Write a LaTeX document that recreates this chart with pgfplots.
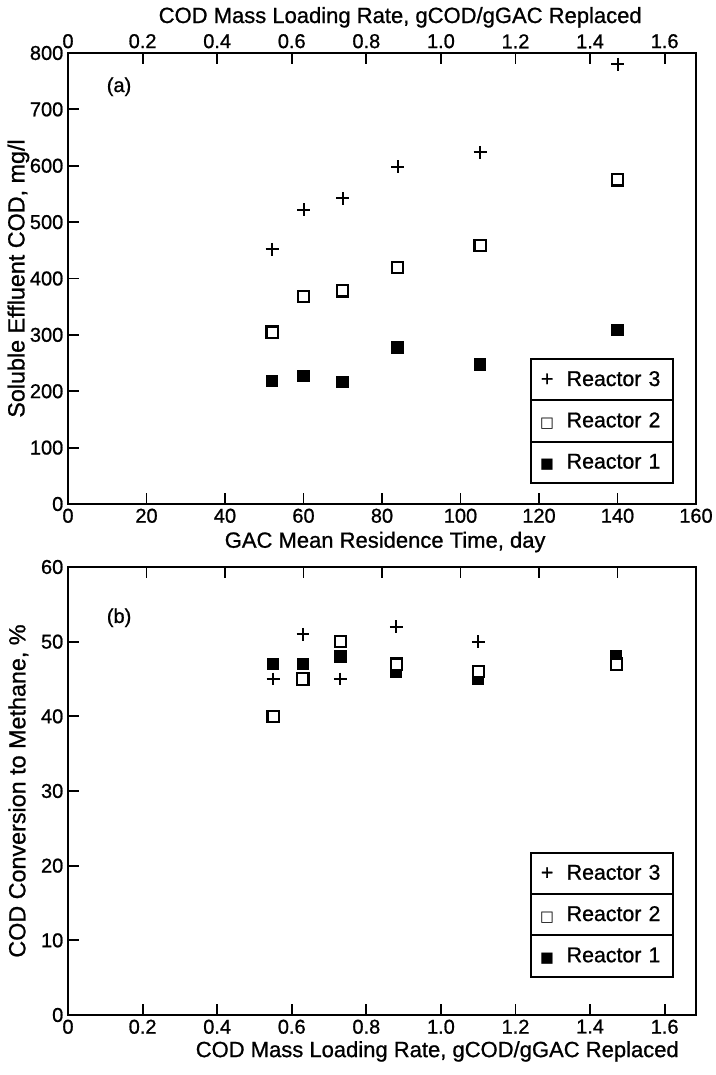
\documentclass[border=0pt]{standalone}
\usepackage{fontspec}
\setmainfont{Liberation Sans}[UprightFeatures={FakeBold=0.9}]
\newfontfamily\symfont{DejaVu Sans}
\usepackage{pgfplots}
\pgfplotsset{compat=1.18}

\newcommand{\fs}{\fontsize{15}{17}\selectfont}
\newcommand{\labfs}{\fontsize{16.5}{18}\selectfont}
\newcommand{\lfs}{\fontsize{16}{18}\selectfont}
\newcommand{\sym}[1]{\makebox[7.5pt]{#1}\hspace{11pt}}

\pgfplotsset{
  panel/.style={
    scale only axis, width=471pt, anchor=south west,
    axis line style={line width=2pt},
    every tick/.style={line width=1.4pt, black},
    major tick length=8pt,
    tick align=inside,
    tick label style={font=\fs},
    label style={font=\labfs},
    /pgf/number format/assume math mode=true,
    clip=false,
  },
  overlay axis/.style={
    panel, axis x line*=top, axis y line=none,
    x axis line style={-},
  },
  r1/.style={only marks, mark=square*, mark size=4.2pt,
    mark options={fill=black, draw=black, line width=1pt}},
  r2/.style={only marks, mark=square*, mark size=4.2pt,
    mark options={fill=white, draw=black, line width=1.6pt}},
  r3/.style={only marks, mark=+, mark size=4.8pt,
    mark options={line width=1.5pt}},
  boxlegend/.style={
    legend image code/.code={},
    reverse legend,
    legend style={at={#1}, anchor=south east, draw=none, fill=none,
      inner sep=0pt, row sep=-1.5pt, column sep=0pt,
      nodes={draw=black, line width=1.5pt, fill=white,
        text width=90pt, minimum height=31pt, inner xsep=8pt,
        inner ysep=0pt, font=\lfs, align=left, anchor=center}},
  },
}

\begin{document}
\begin{tikzpicture}
\path[use as bounding box] (-51pt,-45pt) rectangle (485.25pt,761.25pt);

% (a) effluent COD vs GAC residence time
\begin{axis}[panel, at={(0,383.25pt)}, height=338.25pt,
  xmin=0, xmax=160, ymin=0, ymax=800,
  xtick={0,20,...,160}, ytick={0,100,...,800},
  xtick pos=bottom, ytick pos=left,
  xlabel={GAC Mean Residence Time, day},
  ylabel={Soluble Effluent COD, mg/l},
  xlabel style={at={(axis description cs:0.505,-0.097)}, anchor=base},
  ylabel style={at={(axis description cs:-0.079,0.5)}, anchor=center,
    font=\fontsize{17.5}{18}\selectfont},
  boxlegend={(0.965,0.044)},
]
\addplot[r1] coordinates {(52,218) (60,227) (70,216) (84,278) (105,247) (140,309)};
\addlegendentry{\sym{{\symfont\fontsize{11}{11}\selectfont ■}}Reactor 1}
\addplot[r2] coordinates {(52,305) (60,368) (70,378) (84,420) (105,458) (140,575)};
\addlegendentry{\sym{{\symfont\fontsize{11}{11}\selectfont □}}Reactor 2}
\addplot[r3] coordinates {(52,452) (60,522) (70,542) (84,598) (105,624) (140,780)};
\addlegendentry{\sym{+}Reactor 3}
\node[font=\fs] at (axis cs:13,740) {(a)};
\end{axis}

% top scale of (a)
\begin{axis}[overlay axis, at={(0,383.25pt)}, height=338.25pt,
  xmin=0, xmax=1.684, ymin=0, ymax=800,
  xtick={0,0.2,...,1.6}, xticklabels={0,0.2,0.4,0.6,0.8,1.0,1.2,1.4,1.6},
  xlabel={COD Mass Loading Rate, gCOD/gGAC Replaced},
  xlabel style={at={(axis description cs:0.529,1.0665)}, anchor=base},
]
\end{axis}

% (b) methane conversion vs loading rate
\begin{axis}[panel, at={(0,0)}, height=336pt,
  xmin=0, xmax=1.684, ymin=0, ymax=60,
  xtick={0,0.2,...,1.6}, xticklabels={0,0.2,0.4,0.6,0.8,1.0,1.2,1.4,1.6},
  ytick={0,10,...,60},
  xtick pos=bottom, ytick pos=left,
  xlabel={COD Mass Loading Rate, gCOD/gGAC Replaced},
  ylabel={COD Conversion to Methane, \%},
  xlabel style={at={(axis description cs:0.588,-0.094)}, anchor=base},
  ylabel style={at={(axis description cs:-0.079,0.5)}, anchor=center,
    font=\fontsize{17.5}{18}\selectfont},
  boxlegend={(0.965,0.083)},
]
\addplot[r1] coordinates {(0.55,47) (0.63,47) (0.73,48) (0.88,46) (1.10,45) (1.47,48)};
\addlegendentry{\sym{{\symfont\fontsize{11}{11}\selectfont ■}}Reactor 1}
\addplot[r2] coordinates {(0.55,40) (0.63,45) (0.73,50) (0.88,47) (1.10,46) (1.47,47)};
\addlegendentry{\sym{{\symfont\fontsize{11}{11}\selectfont □}}Reactor 2}
\addplot[r3] coordinates {(0.55,45) (0.63,51) (0.73,45) (0.88,52) (1.10,50)};
\addlegendentry{\sym{+}Reactor 3}
\node[font=\fs] at (axis cs:0.137,53.2) {(b)};
\end{axis}

% top ticks of (b), at the day positions
\begin{axis}[overlay axis, at={(0,0)}, height=336pt,
  xmin=0, xmax=160, ymin=0, ymax=60,
  xtick={20,40,...,140}, xticklabels={},
]
\end{axis}
\end{tikzpicture}
\end{document}
